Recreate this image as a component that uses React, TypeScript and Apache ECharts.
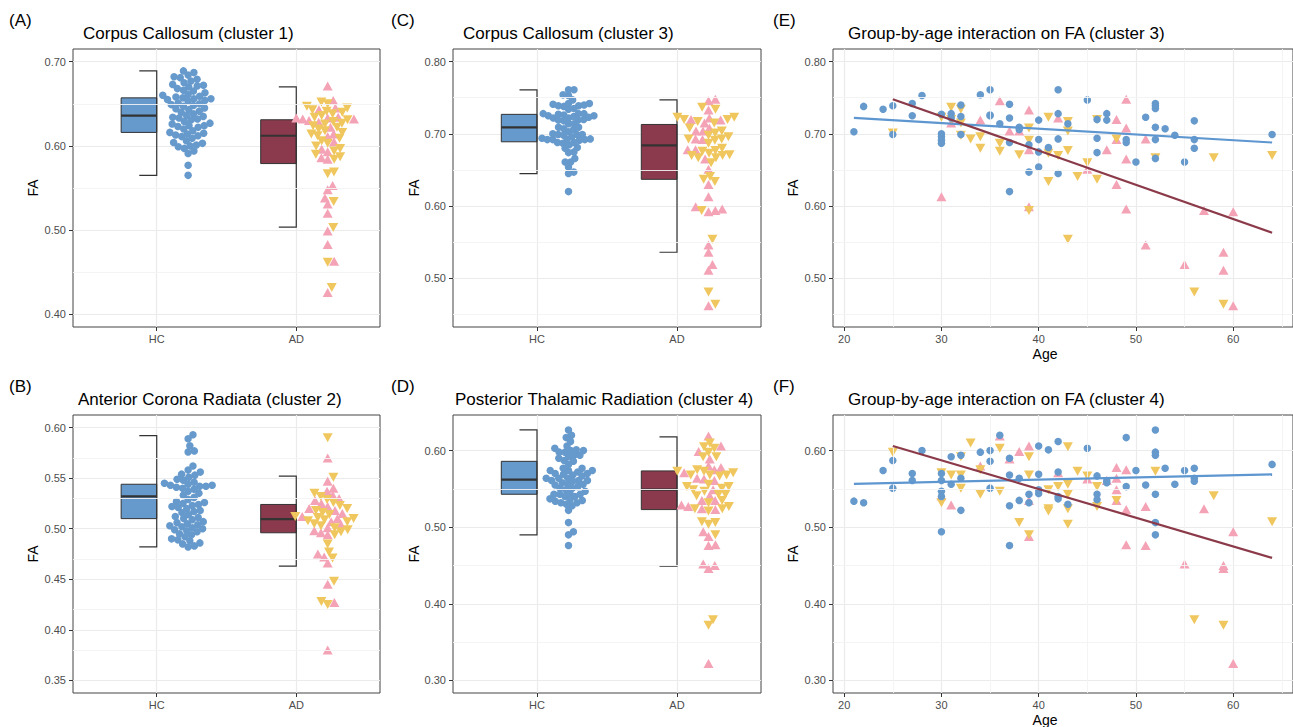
import React, { useEffect, useRef } from "react";
import * as echarts from "echarts";

// ---------------- DATA ----------------
const groups = ["HC", "AD"];

// Cluster 1 (panel A) FA values
const c1HC = [0.689, 0.687, 0.684, 0.682, 0.681, 0.679, 0.677, 0.675, 0.673, 0.672, 0.671, 0.670, 0.668, 0.666, 0.665, 0.663, 0.661, 0.660, 0.659, 0.658, 0.657, 0.656, 0.656, 0.655, 0.654, 0.653, 0.651, 0.650, 0.649, 0.648, 0.647, 0.645, 0.644, 0.643, 0.641, 0.640, 0.638, 0.636, 0.635, 0.634, 0.633, 0.632, 0.631, 0.629, 0.627, 0.626, 0.624, 0.624, 0.623, 0.622, 0.620, 0.618, 0.616, 0.615, 0.614, 0.613, 0.612, 0.611, 0.609, 0.606, 0.604, 0.603, 0.601, 0.600, 0.599, 0.597, 0.594, 0.591, 0.577, 0.565];
const c1ADup = [0.671, 0.654, 0.645, 0.643, 0.634, 0.633, 0.633, 0.632, 0.632, 0.630, 0.628, 0.622, 0.614, 0.611, 0.605, 0.596, 0.593, 0.586, 0.584, 0.553, 0.548, 0.538, 0.531, 0.520, 0.499, 0.483, 0.463, 0.426];
const c1ADdown = [0.652, 0.650, 0.647, 0.645, 0.643, 0.641, 0.640, 0.638, 0.636, 0.634, 0.631, 0.629, 0.627, 0.626, 0.624, 0.622, 0.620, 0.618, 0.616, 0.614, 0.612, 0.609, 0.606, 0.603, 0.600, 0.597, 0.594, 0.590, 0.587, 0.584, 0.569, 0.567, 0.534, 0.503, 0.462, 0.432];
// box stats: [lower whisker, Q1, median, Q3, upper whisker] for HC, AD
const c1Box = [[0.565, 0.616, 0.636, 0.657, 0.689], [0.5035, 0.579, 0.612, 0.631, 0.670]];

// Cluster 2 (panel B)
const c2HC = [0.593, 0.589, 0.582, 0.577, 0.576, 0.562, 0.558, 0.556, 0.554, 0.553, 0.551, 0.549, 0.548, 0.546, 0.545, 0.544, 0.543, 0.543, 0.542, 0.542, 0.541, 0.540, 0.539, 0.537, 0.535, 0.533, 0.531, 0.529, 0.527, 0.526, 0.525, 0.524, 0.523, 0.522, 0.521, 0.520, 0.518, 0.517, 0.516, 0.514, 0.512, 0.511, 0.510, 0.509, 0.507, 0.506, 0.505, 0.504, 0.503, 0.502, 0.501, 0.500, 0.499, 0.498, 0.497, 0.495, 0.494, 0.492, 0.490, 0.489, 0.488, 0.486, 0.485, 0.483, 0.482];
const c2ADup = [0.570, 0.547, 0.540, 0.537, 0.533, 0.530, 0.528, 0.525, 0.522, 0.520, 0.518, 0.515, 0.512, 0.510, 0.507, 0.504, 0.501, 0.498, 0.496, 0.494, 0.475, 0.472, 0.466, 0.445, 0.427, 0.380];
const c2ADdown = [0.590, 0.551, 0.535, 0.532, 0.529, 0.526, 0.523, 0.520, 0.518, 0.516, 0.514, 0.512, 0.511, 0.510, 0.509, 0.508, 0.507, 0.505, 0.503, 0.501, 0.499, 0.497, 0.494, 0.485, 0.477, 0.471, 0.448, 0.428, 0.425];
const c2Box = [[0.482, 0.510, 0.532, 0.544, 0.592], [0.463, 0.496, 0.5095, 0.524, 0.552]];

// Cluster 3 (panels C and E): [age, FA]
const c3HC: [number, number][] = [[21, 0.703], [22, 0.738], [24, 0.734], [25, 0.739], [25, 0.699], [27, 0.742], [27, 0.725], [28, 0.753], [30, 0.727], [30, 0.700], [30, 0.696], [30, 0.691], [30, 0.687], [31, 0.728], [31, 0.722], [32, 0.740], [32, 0.724], [32, 0.699], [34, 0.754], [35, 0.761], [35, 0.726], [35, 0.725], [36, 0.714], [37, 0.741], [37, 0.722], [37, 0.688], [37, 0.620], [38, 0.709], [38, 0.706], [39, 0.685], [39, 0.647], [40, 0.719], [40, 0.692], [40, 0.675], [40, 0.654], [41, 0.681], [42, 0.761], [42, 0.728], [42, 0.693], [42, 0.645], [43, 0.714], [45, 0.747], [46, 0.720], [46, 0.694], [46, 0.674], [47, 0.728], [47, 0.719], [49, 0.692], [49, 0.688], [50, 0.661], [51, 0.723], [52, 0.742], [52, 0.739], [52, 0.735], [52, 0.709], [52, 0.692], [52, 0.666], [53, 0.707], [54, 0.698], [55, 0.661], [56, 0.718], [56, 0.692], [56, 0.680], [64, 0.699]];
const c3ADup: [number, number][] = [[30, 0.613], [31, 0.715], [34, 0.719], [36, 0.746], [37, 0.704], [38, 0.704], [39, 0.733], [39, 0.678], [39, 0.599], [42, 0.722], [45, 0.651], [47, 0.678], [48, 0.720], [48, 0.692], [48, 0.630], [49, 0.748], [49, 0.708], [49, 0.665], [49, 0.596], [51, 0.693], [51, 0.546], [55, 0.519], [57, 0.594], [59, 0.536], [59, 0.511], [60, 0.592], [60, 0.462]];
const c3ADdown: [number, number][] = [[25, 0.701], [30, 0.723], [31, 0.737], [31, 0.720], [32, 0.734], [32, 0.715], [32, 0.698], [33, 0.693], [34, 0.696], [34, 0.680], [36, 0.687], [36, 0.676], [38, 0.671], [39, 0.708], [39, 0.691], [39, 0.594], [41, 0.723], [41, 0.673], [41, 0.634], [42, 0.670], [43, 0.717], [43, 0.704], [43, 0.677], [43, 0.554], [44, 0.641], [45, 0.660], [46, 0.720], [46, 0.637], [48, 0.693], [52, 0.667], [56, 0.481], [58, 0.667], [59, 0.464], [64, 0.670]];
const c3Box = [[0.645, 0.689, 0.709, 0.727, 0.761], [0.536, 0.637, 0.684, 0.713, 0.747]];
const c3FitHC: [number, number][] = [[21, 0.722], [64, 0.688]];
const c3FitAD: [number, number][] = [[25, 0.748], [64, 0.563]];

// Cluster 4 (panels D and F): [age, FA]
const c4HC: [number, number][] = [[21, 0.534], [22, 0.532], [24, 0.574], [25, 0.587], [25, 0.551], [27, 0.570], [27, 0.561], [28, 0.600], [30, 0.570], [30, 0.561], [30, 0.547], [30, 0.540], [30, 0.494], [31, 0.592], [31, 0.556], [32, 0.594], [32, 0.564], [32, 0.522], [34, 0.598], [35, 0.600], [35, 0.586], [35, 0.551], [36, 0.620], [37, 0.590], [37, 0.568], [37, 0.528], [37, 0.476], [38, 0.564], [38, 0.535], [39, 0.543], [39, 0.532], [40, 0.606], [40, 0.569], [40, 0.549], [40, 0.544], [41, 0.601], [42, 0.612], [42, 0.572], [42, 0.540], [42, 0.537], [43, 0.530], [45, 0.603], [46, 0.567], [46, 0.543], [46, 0.536], [47, 0.561], [47, 0.558], [49, 0.617], [49, 0.553], [50, 0.574], [51, 0.555], [52, 0.627], [52, 0.598], [52, 0.594], [52, 0.543], [52, 0.506], [52, 0.490], [53, 0.577], [54, 0.556], [55, 0.574], [56, 0.577], [56, 0.564], [56, 0.560], [64, 0.582]];
const c4ADup: [number, number][] = [[30, 0.541], [31, 0.529], [34, 0.580], [36, 0.619], [37, 0.589], [38, 0.599], [39, 0.606], [39, 0.535], [39, 0.488], [42, 0.571], [45, 0.563], [47, 0.561], [48, 0.578], [48, 0.564], [48, 0.549], [48, 0.535], [49, 0.575], [49, 0.523], [49, 0.477], [51, 0.527], [51, 0.476], [55, 0.452], [57, 0.524], [59, 0.450], [59, 0.446], [60, 0.494], [60, 0.322]];
const c4ADdown: [number, number][] = [[25, 0.598], [30, 0.571], [30, 0.532], [31, 0.568], [32, 0.592], [32, 0.568], [32, 0.551], [33, 0.610], [34, 0.575], [34, 0.543], [36, 0.603], [36, 0.547], [38, 0.506], [39, 0.592], [39, 0.568], [39, 0.490], [41, 0.549], [41, 0.524], [41, 0.521], [42, 0.553], [43, 0.605], [43, 0.556], [43, 0.543], [43, 0.524], [43, 0.504], [44, 0.573], [45, 0.567], [46, 0.553], [46, 0.527], [48, 0.535], [52, 0.573], [56, 0.379], [58, 0.541], [59, 0.372], [64, 0.507]];
const c4Box = [[0.490, 0.543, 0.562, 0.586, 0.627], [0.449, 0.523, 0.549, 0.5735, 0.618]];
const c4FitHC: [number, number][] = [[21, 0.5565], [64, 0.569]];
const c4FitAD: [number, number][] = [[25, 0.606], [64, 0.460]];

// Axis ranges and ticks
const yRangeA = [0.385, 0.715];
const yMajorA = [0.4, 0.5, 0.6, 0.7];
const yMinorA = [0.45, 0.55, 0.65];
const yRangeB = [0.3375, 0.6125];
const yMajorB = [0.35, 0.4, 0.45, 0.5, 0.55, 0.6];
const yMinorB = [0.375, 0.425, 0.475, 0.525, 0.575];
const yRange3 = [0.4325, 0.8175];
const yMajor3 = [0.5, 0.6, 0.7, 0.8];
const yMinor3 = [0.45, 0.55, 0.65, 0.75];
const yRange4 = [0.2835, 0.6465];
const yMajor4 = [0.3, 0.4, 0.5, 0.6];
const yMinor4 = [0.35, 0.45, 0.55];
const ageRange = [18.85, 66.15];
const ageMajor = [20, 30, 40, 50, 60];
const ageMinor = [25, 35, 45, 55, 65];
const catRange = [0.4, 2.6];

const titles = [
  "Corpus Callosum (cluster 1)",
  "Anterior Corona Radiata (cluster 2)",
  "Corpus Callosum (cluster 3)",
  "Posterior Thalamic Radiation (cluster 4)",
  "Group-by-age interaction on FA (cluster 3)",
  "Group-by-age interaction on FA (cluster 4)",
];
const panelLabels = ["(A)", "(B)", "(C)", "(D)", "(E)", "(F)"];

// ---------------- STYLE / LAYOUT ----------------
const FONT = "'Liberation Sans', Arial, Helvetica, sans-serif";
const BLUE = "#6699CC";
const MAROON = "#8B3A4D";
const PINK = "#F4A3B6";
const YELLOW = "#F0C75E";
const NUDGE = 0.225;
// swarm spacing (px) per box panel: [HC, AD]
const swarmSpacing = [[6.3, 6.5], [6.3, 7.0], [5.5, 7.0], [5.8, 7.0]];

const grids = [
  { left: 73, top: 49, width: 307, height: 278 },
  { left: 73, top: 415, width: 307, height: 278 },
  { left: 453, top: 49, width: 308, height: 278 },
  { left: 453, top: 415, width: 308, height: 278 },
  { left: 833, top: 49, width: 461, height: 278 },
  { left: 833, top: 415, width: 461, height: 278 },
];
const titlePos = [
  [83, 33.5], [78, 399.5], [463, 33.5], [455, 399.5], [848, 33.5], [848, 399.5],
];
const labelPos = [
  [9, 20], [9, 386], [391, 20], [391, 386], [773, 20], [773, 386],
];
const faX = [33, 33, 414, 414, 793, 793];

function swarmOffsets(vals: number[], pxPerUnit: number, D: number): number[] {
  const order = vals.map((_, i) => i).sort((a, b) => vals[a] - vals[b]);
  const placed: { x: number; y: number }[] = [];
  const out = new Array(vals.length).fill(0);
  for (const i of order) {
    const y = vals[i] * pxPerUnit;
    const near = placed.filter((p) => Math.abs(p.y - y) < D);
    const cands = [0];
    for (const p of near) {
      const dx = Math.sqrt(D * D - (p.y - y) * (p.y - y));
      cands.push(p.x + dx, p.x - dx);
    }
    cands.sort((a, b) => Math.abs(a) - Math.abs(b));
    let x = 0;
    for (const c of cands) {
      if (near.every((p) => (p.x - c) * (p.x - c) + (p.y - y) * (p.y - y) >= D * D - 1e-6)) {
        x = c;
        break;
      }
    }
    placed.push({ x, y });
    out[i] = x;
  }
  return out;
}

const tickStyle = { show: true, length: 4, lineStyle: { color: "#333", width: 1 } };
const labelStyle = { color: "#4D4D4D", fontSize: 11, fontFamily: FONT };
const majorLine = { show: true, lineStyle: { color: "#EBEBEB", width: 1.2 } };

function minorSeries(gi: number, yMinor: number[], xMinor: number[]) {
  return {
    type: "line",
    xAxisIndex: gi,
    yAxisIndex: gi,
    data: [],
    z: 1,
    silent: true,
    markLine: {
      silent: true,
      symbol: ["none", "none"],
      label: { show: false },
      animation: false,
      lineStyle: { color: "#F3F3F3", width: 0.9, type: "solid" },
      data: [...yMinor.map((v) => ({ yAxis: v })), ...xMinor.map((v) => ({ xAxis: v }))],
    },
  };
}

function boxPanelSeries(gi: number, hc: number[], up: number[], down: number[], box: number[][], yRange: number[], yMinor: number[]) {
  const g = grids[gi];
  const pxY = g.height / (yRange[1] - yRange[0]);
  const pxX = g.width / (catRange[1] - catRange[0]);
  const hcOff = swarmOffsets(hc, pxY, swarmSpacing[gi][0]);
  const ad = [...up, ...down];
  const adOff = swarmOffsets(ad, pxY, swarmSpacing[gi][1]);
  const hcData = hc.map((v, i) => [1 + NUDGE + hcOff[i] / pxX, v]);
  const upData = up.map((v, i) => [2 + NUDGE + adOff[i] / pxX, v]);
  const downData = down.map((v, i) => [2 + NUDGE + adOff[up.length + i] / pxX, v]);
  const boxData = box.map((b, i) => [i + 1, ...b]);
  const fills = [BLUE, MAROON];
  return [
    minorSeries(gi, yMinor, []),
    {
      type: "custom",
      xAxisIndex: gi,
      yAxisIndex: gi,
      z: 3,
      silent: true,
      data: boxData,
      encode: { x: 0, y: [1, 2, 3, 4, 5] },
      renderItem: (params: any, api: any) => {
        const c = api.value(0);
        const lo = api.coord([c, api.value(1)]);
        const q1 = api.coord([c - 0.255, api.value(2)]);
        const med = api.coord([c, api.value(3)]);
        const q3 = api.coord([c, api.value(4)]);
        const hi = api.coord([c, api.value(5)]);
        const bx = api.coord([c - 0.125, api.value(1)])[0];
        const xr = q3[0];
        return {
          type: "group",
          children: [
            {
              type: "rect",
              shape: { x: q1[0], y: q3[1], width: xr - q1[0], height: q1[1] - q3[1] },
              style: { fill: fills[params.dataIndex], stroke: "#333", lineWidth: 1 },
            },
            {
              type: "line",
              shape: { x1: q1[0], y1: med[1], x2: xr, y2: med[1] },
              style: { stroke: "#333", lineWidth: 2.2 },
            },
            {
              type: "polyline",
              shape: { points: [[bx, hi[1]], [xr, hi[1]], [xr, lo[1]], [bx, lo[1]]] },
              style: { stroke: "#333", lineWidth: 1.2, fill: null },
            },
          ],
        };
      },
    },
    {
      type: "scatter", xAxisIndex: gi, yAxisIndex: gi, z: 4, silent: true,
      symbol: "circle", symbolSize: 7.5, itemStyle: { color: BLUE, opacity: 1 }, data: hcData,
    },
    {
      type: "scatter", xAxisIndex: gi, yAxisIndex: gi, z: 4, silent: true,
      symbol: "triangle", symbolSize: [10, 9], itemStyle: { color: PINK, opacity: 1 }, data: upData,
    },
    {
      type: "scatter", xAxisIndex: gi, yAxisIndex: gi, z: 4, silent: true,
      symbol: "triangle", symbolRotate: 180, symbolSize: [10, 9], itemStyle: { color: YELLOW, opacity: 1 }, data: downData,
    },
  ];
}

function agePanelSeries(gi: number, hc: [number, number][], up: [number, number][], down: [number, number][], fitHC: [number, number][], fitAD: [number, number][], yMinor: number[]) {
  return [
    minorSeries(gi, yMinor, ageMinor),
    {
      type: "scatter", xAxisIndex: gi, yAxisIndex: gi, z: 3, silent: true,
      symbol: "triangle", symbolSize: [10, 9], itemStyle: { color: PINK, opacity: 1 }, data: up,
    },
    {
      type: "scatter", xAxisIndex: gi, yAxisIndex: gi, z: 3, silent: true,
      symbol: "triangle", symbolRotate: 180, symbolSize: [10, 9], itemStyle: { color: YELLOW, opacity: 1 }, data: down,
    },
    {
      type: "scatter", xAxisIndex: gi, yAxisIndex: gi, z: 3, silent: true,
      symbol: "circle", symbolSize: 7.5, itemStyle: { color: BLUE, opacity: 1 }, data: hc,
    },
    {
      type: "line", xAxisIndex: gi, yAxisIndex: gi, z: 5, silent: true, showSymbol: false,
      lineStyle: { color: "#5E96D0", width: 2.2 }, data: fitHC,
    },
    {
      type: "line", xAxisIndex: gi, yAxisIndex: gi, z: 5, silent: true, showSymbol: false,
      lineStyle: { color: "#8B3A4A", width: 2.2 }, data: fitAD,
    },
  ];
}

function yAxis(gi: number, range: number[], major: number[]) {
  return {
    type: "value",
    gridIndex: gi,
    min: range[0],
    max: range[1],
    axisLine: { show: false },
    axisTick: { ...tickStyle, customValues: major },
    axisLabel: { ...labelStyle, margin: 7, customValues: major, formatter: (v: number) => v.toFixed(2) },
    splitLine: majorLine,
  };
}

function catAxis(gi: number) {
  return {
    type: "value",
    gridIndex: gi,
    min: catRange[0],
    max: catRange[1],
    axisLine: { show: false },
    axisTick: { ...tickStyle, customValues: [1, 2] },
    axisLabel: { ...labelStyle, margin: 6, customValues: [1, 2], formatter: (v: number) => groups[Math.round(v) - 1] },
    splitLine: majorLine,
  };
}

function ageAxis(gi: number) {
  return {
    type: "value",
    gridIndex: gi,
    min: ageRange[0],
    max: ageRange[1],
    axisLine: { show: false },
    axisTick: { ...tickStyle, customValues: ageMajor },
    axisLabel: { ...labelStyle, margin: 6, customValues: ageMajor, formatter: (v: number) => String(Math.round(v)) },
    splitLine: majorLine,
  };
}

function buildOption() {
  const graphic: any[] = [];
  titles.forEach((t, i) => {
    graphic.push({
      type: "text", x: titlePos[i][0], y: titlePos[i][1], silent: true,
      style: { text: t, fontSize: 17, fontFamily: FONT, fill: "#000", align: "left", verticalAlign: "middle" },
    });
    graphic.push({
      type: "text", x: labelPos[i][0], y: labelPos[i][1], silent: true,
      style: { text: panelLabels[i], fontSize: 17, fontFamily: FONT, fill: "#000", align: "left", verticalAlign: "middle" },
    });
    const g = grids[i];
    graphic.push({
      type: "text", x: faX[i], y: g.top + g.height / 2, rotation: Math.PI / 2, silent: true,
      style: { text: "FA", fontSize: 14, fontFamily: FONT, fill: "#000", align: "center", verticalAlign: "middle" },
    });
  });
  graphic.push({
    type: "text", x: 1045, y: 354, silent: true,
    style: { text: "Age", fontSize: 14, fontFamily: FONT, fill: "#000", align: "center", verticalAlign: "middle" },
  });
  graphic.push({
    type: "text", x: 1045, y: 720, silent: true,
    style: { text: "Age", fontSize: 14, fontFamily: FONT, fill: "#000", align: "center", verticalAlign: "middle" },
  });

  return {
    animation: false,
    backgroundColor: "#ffffff",
    grid: grids.map((g) => ({ ...g, show: true, borderColor: "#444", borderWidth: 1, backgroundColor: "#fff", containLabel: false })),
    xAxis: [catAxis(0), catAxis(1), catAxis(2), catAxis(3), ageAxis(4), ageAxis(5)],
    yAxis: [
      yAxis(0, yRangeA, yMajorA),
      yAxis(1, yRangeB, yMajorB),
      yAxis(2, yRange3, yMajor3),
      yAxis(3, yRange4, yMajor4),
      yAxis(4, yRange3, yMajor3),
      yAxis(5, yRange4, yMajor4),
    ],
    series: [
      ...boxPanelSeries(0, c1HC, c1ADup, c1ADdown, c1Box, yRangeA, yMinorA),
      ...boxPanelSeries(1, c2HC, c2ADup, c2ADdown, c2Box, yRangeB, yMinorB),
      ...boxPanelSeries(2, c3HC.map((p) => p[1]), c3ADup.map((p) => p[1]), c3ADdown.map((p) => p[1]), c3Box, yRange3, yMinor3),
      ...boxPanelSeries(3, c4HC.map((p) => p[1]), c4ADup.map((p) => p[1]), c4ADdown.map((p) => p[1]), c4Box, yRange4, yMinor4),
      ...agePanelSeries(4, c3HC, c3ADup, c3ADdown, c3FitHC, c3FitAD, yMinor3),
      ...agePanelSeries(5, c4HC, c4ADup, c4ADdown, c4FitHC, c4FitAD, yMinor4),
    ],
    graphic,
  };
}

export default function App() {
  const ref = useRef<HTMLDivElement>(null);
  useEffect(() => {
    if (!ref.current) return;
    const chart = echarts.init(ref.current, undefined, { renderer: "svg" });
    chart.setOption(buildOption() as any);
    return () => chart.dispose();
  }, []);
  return (
    <div
      ref={ref}
      style={{ position: "fixed", left: 0, top: 0, width: 1293, height: 727, background: "#fff" }}
    />
  );
}
